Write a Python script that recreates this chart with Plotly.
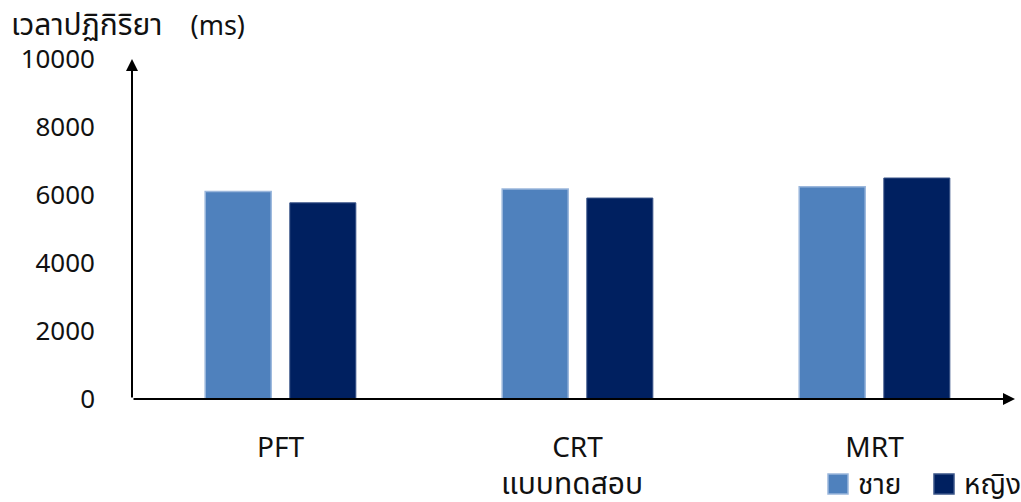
import plotly.graph_objects as go

# Reaction time by test type and sex
tests = ["PFT", "CRT", "MRT"]
male_ms = [6100, 6180, 6240]
female_ms = [5770, 5910, 6500]
y_ticks = [0, 2000, 4000, 6000, 8000, 10000]
y_tick_text = ["0", "2000", "4000", "6000", "8000", "10000"]

series_names = ["ชาย", "หญิง"]
male_color, male_edge = "#4f81bd", "#9bb7dc"
female_color, female_edge = "#002060", "#3a5488"

FONT = "Noto Sans, Noto Sans Thai, DejaVu Sans, sans-serif"

# Plot area in pixels
L, R, T, B = 132, 6, 59, 103
W, H = 1021, 502
PW, PH = W - L - R, H - T - B


def px(x):
    return (x - L) / PW


def py(y):
    return (H - B - y) / PH


fig = go.Figure()
fig.add_trace(go.Bar(
    x=tests, y=male_ms, name=series_names[0], showlegend=False,
    marker=dict(color=male_color, line=dict(color=male_edge, width=1.5)),
))
fig.add_trace(go.Bar(
    x=tests, y=female_ms, name=series_names[1], showlegend=False,
    marker=dict(color=female_color, line=dict(color=female_edge, width=1)),
))

fig.update_layout(
    width=W, height=H,
    margin=dict(l=L, r=R, t=T, b=B, autoexpand=False),
    paper_bgcolor="white", plot_bgcolor="white",
    barmode="group", bargap=0.43, bargroupgap=0.22,
    font=dict(family=FONT, size=24, color="#111111"),
    xaxis=dict(range=[-0.5, 2.473], showline=False, showgrid=False,
               zeroline=False, ticks="", tickfont=dict(size=28),
               ticklabelstandoff=29),
    yaxis=dict(range=[0, 10000], tickvals=y_ticks, ticktext=y_tick_text,
               showgrid=False, showline=False, zeroline=False, ticks="",
               ticklabelstandoff=36, tickfont=dict(size=26)),
)

# Axis arrows
fig.add_annotation(x=-0.5, y=10000, ax=-0.5, ay=0, xref="x", yref="y",
                   axref="x", ayref="y", showarrow=True, arrowhead=2,
                   arrowsize=1.2, arrowwidth=2, arrowcolor="black", text="")
fig.add_annotation(x=2.473, y=0, ax=-0.5, ay=0, xref="x", yref="y",
                   axref="x", ayref="y", showarrow=True, arrowhead=2,
                   arrowsize=1.2, arrowwidth=2, arrowcolor="black", text="")

# Axis titles
fig.add_annotation(
    text="<span style='font-size:30px'>เวลาปฏิกิริยา</span>"
         "&nbsp;&nbsp;&nbsp;&nbsp;(ms)",
    xref="paper", yref="paper", x=px(9), y=py(24),
    xanchor="left", yanchor="middle", showarrow=False,
    font=dict(size=27))
fig.add_annotation(text="แบบทดสอบ", xref="paper", yref="paper",
                   x=px(572), y=py(482), xanchor="center", yanchor="middle",
                   showarrow=False, font=dict(size=30))

# Legend
legend_items = [
    (series_names[0], male_color, male_edge, 828),
    (series_names[1], female_color, female_edge, 934),
]
for name, color, edge, x0 in legend_items:
    fig.add_shape(type="rect", xref="paper", yref="paper",
                  x0=px(x0), x1=px(x0 + 20), y0=py(494), y1=py(474),
                  fillcolor=color, line=dict(color=edge, width=1.5))
    fig.add_annotation(text=name, xref="paper", yref="paper",
                       x=px(x0 + 28), y=py(483), xanchor="left",
                       yanchor="middle", showarrow=False,
                       font=dict(size=28))

fig.write_html("out.html")
